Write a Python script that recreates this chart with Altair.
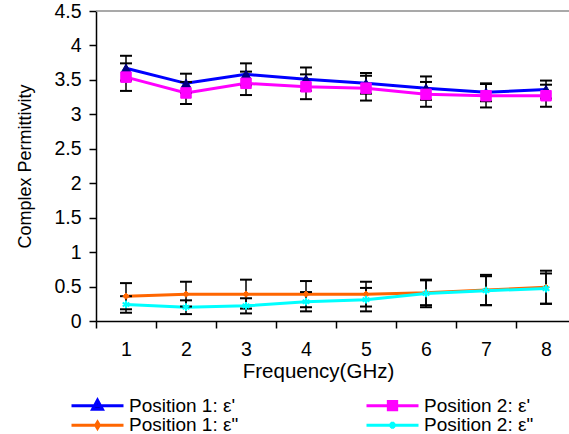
import altair as alt
import pandas as pd

freq = [1, 2, 3, 4, 5, 6, 7, 8]
series_names = ["Position 1: ε'", "Position 1: ε\"", "Position 2: ε'", "Position 2: ε\""]
p1_real = [3.67, 3.45, 3.58, 3.51, 3.45, 3.38, 3.32, 3.36]
p1_real_err = [0.18, 0.14, 0.16, 0.17, 0.15, 0.17, 0.13, 0.13]
p2_real = [3.54, 3.31, 3.45, 3.40, 3.38, 3.29, 3.27, 3.27]
p2_real_err = [0.20, 0.16, 0.17, 0.18, 0.18, 0.18, 0.17, 0.16]
p1_imag = [0.36, 0.39, 0.39, 0.39, 0.39, 0.41, 0.45, 0.49]
p1_imag_err = [0.19, 0.18, 0.21, 0.19, 0.18, 0.18, 0.22, 0.24]
p2_imag = [0.24, 0.20, 0.22, 0.28, 0.31, 0.40, 0.44, 0.47]
p2_imag_err = [0.12, 0.10, 0.11, 0.14, 0.17, 0.20, 0.21, 0.22]

line_colors = ["#0000FF", "#FF6600", "#FF00FF", "#00FFFF"]
fill_colors = ["#000080", "#FF6600", "#FF00FF", "#00FFFF"]
legend_paths = [
    "M-1,0L1,0M0,-0.21L0.19,0.14L-0.19,0.14Z",
    "M-1,0L1,0M0,-0.12L0.07,0L0,0.12L-0.07,0Z",
    "M-1,0L1,0M-0.16,-0.16L0.16,-0.16L0.16,0.16L-0.16,0.16Z",
    "M-1,0L1,0M0,-0.13L0,0.13M-0.11,-0.07L0.11,0.07M-0.11,0.07L0.11,-0.07",
]

rows = []
for name, vals, errs in zip(series_names,
                            [p1_real, p1_imag, p2_real, p2_imag],
                            [p1_real_err, p1_imag_err, p2_real_err, p2_imag_err]):
    for f, v, e in zip(freq, vals, errs):
        rows.append({"freq": f, "series": name, "value": v, "lo": v - e, "hi": v + e})
df = pd.DataFrame(rows)

FONT = "Liberation Sans"

x_axis = alt.Axis(
    values=[0.5, 1, 1.5, 2, 2.5, 3, 3.5, 4, 4.5, 5, 5.5, 6, 6.5, 7, 7.5, 8],
    labelExpr="datum.value % 1 == 0 ? format(datum.value, 'd') : ''",
    tickOpacity={"condition": {"test": "datum.value % 1 != 0", "value": 1}, "value": 0},
    labelOverlap=False, labelBound=False, labelFlush=False,
    tickSize=7, labelPadding=12, labelFontSize=19.5, labelFont=FONT, labelColor="#000000",
    title="Frequency(GHz)", titleFontSize=20.5, titleFont=FONT, titleFontWeight="normal",
    titleColor="#000000", titlePadding=3, titleX=222, titleAlign="center",
    grid=False, domainColor="#000000", tickColor="#000000", domainWidth=1.5, tickWidth=1.5,
)
y_axis = alt.Axis(
    values=[0, 0.5, 1, 1.5, 2, 2.5, 3, 3.5, 4, 4.5], format="~g",
    tickSize=7, labelPadding=8, labelFontSize=19.5, labelFont=FONT, labelColor="#000000",
    title="Complex Permittivity", titleFontSize=18, titleFont=FONT, titleFontWeight="normal",
    titleColor="#000000", titlePadding=19,
    grid=False, domainColor="#000000", tickColor="#000000", domainWidth=1.5, tickWidth=1.5,
    labelOverlap=False, labelFlush=False,
)

xs = alt.Scale(domain=[0.5, 8.383], nice=False, zero=False)
ys = alt.Scale(domain=[0, 4.5], nice=False)

X = alt.X("freq:Q", scale=xs, axis=x_axis)
def Y(field):
    return alt.Y(field, type="quantitative", scale=ys, axis=y_axis)

base = alt.Chart(df)

def line(name, color):
    return base.transform_filter(alt.datum.series == name).mark_line(
        strokeWidth=3, color=color
    ).encode(x=X, y=Y("value"))

line_layers = [line(n, c) for n, c in zip(series_names, line_colors)]

err_rule = base.mark_rule(color="#000000", strokeWidth=1.5).encode(
    x=X, y=Y("lo"), y2="hi:Q"
)
cap_lo = base.mark_tick(color="#000000", size=12, thickness=2, orient="horizontal", opacity=1).encode(
    x=X, y=Y("lo")
)
cap_hi = base.mark_tick(color="#000000", size=12, thickness=2, orient="horizontal", opacity=1).encode(
    x=X, y=Y("hi")
)

def pts(name, shape, size, fill, stroke, sw, filled=True):
    return base.transform_filter(alt.datum.series == name).mark_point(
        shape=shape, size=size, filled=filled, fill=fill, stroke=stroke,
        strokeWidth=sw, opacity=1,
    ).encode(x=X, y=Y("value"))

p1 = pts(series_names[0], "triangle-up", 90, "#000080", "#000080", 1)
p3 = pts(series_names[2], "square", 110, "#FF00FF", "#FF00FF", 1)
p2 = pts(series_names[1], "diamond", 40, "#FF6600", "#FF6600", 1)
p4 = pts(series_names[3], "M0,-1L0,1M-0.87,-0.5L0.87,0.5M-0.87,0.5L0.87,-0.5", 60, "#00FFFF", "#00FFFF", 2, filled=False)

top_line = alt.Chart(pd.DataFrame({"v": [4.5]})).mark_rule(color="#8C8C8C", strokeWidth=1.5).encode(
    y=Y("v")
)

leg = alt.Legend(title=None, symbolStrokeWidth=3, symbolOpacity=1)
legend_layer = base.transform_filter("false").mark_point(opacity=1, filled=False, strokeWidth=3).encode(
    shape=alt.Shape("series:N", scale=alt.Scale(domain=series_names, range=legend_paths), legend=leg),
    stroke=alt.Stroke("series:N", scale=alt.Scale(domain=series_names, range=line_colors), legend=leg),
    fill=alt.Fill("series:N", scale=alt.Scale(domain=series_names, range=fill_colors), legend=leg),
)

chart = alt.layer(top_line, *line_layers, err_rule, cap_lo, cap_hi, p1, p2, p3, p4, legend_layer).properties(
    width=473, height=310,
    padding={"left": 96, "top": 11, "right": 0, "bottom": 113},
    autosize=alt.AutoSizeParams(type="none"),
    background="#FFFFFF",
).configure_view(stroke=None).configure_legend(
    orient="none", legendX=-26, legendY=385, columns=2, columnPadding=126,
    symbolSize=2704, clipHeight=18.5, rowPadding=0,
    labelFont=FONT, labelFontSize=19, labelColor="#000000", labelOffset=4,
)

chart.save("out.html", embed_options={"renderer": "svg", "actions": False})
